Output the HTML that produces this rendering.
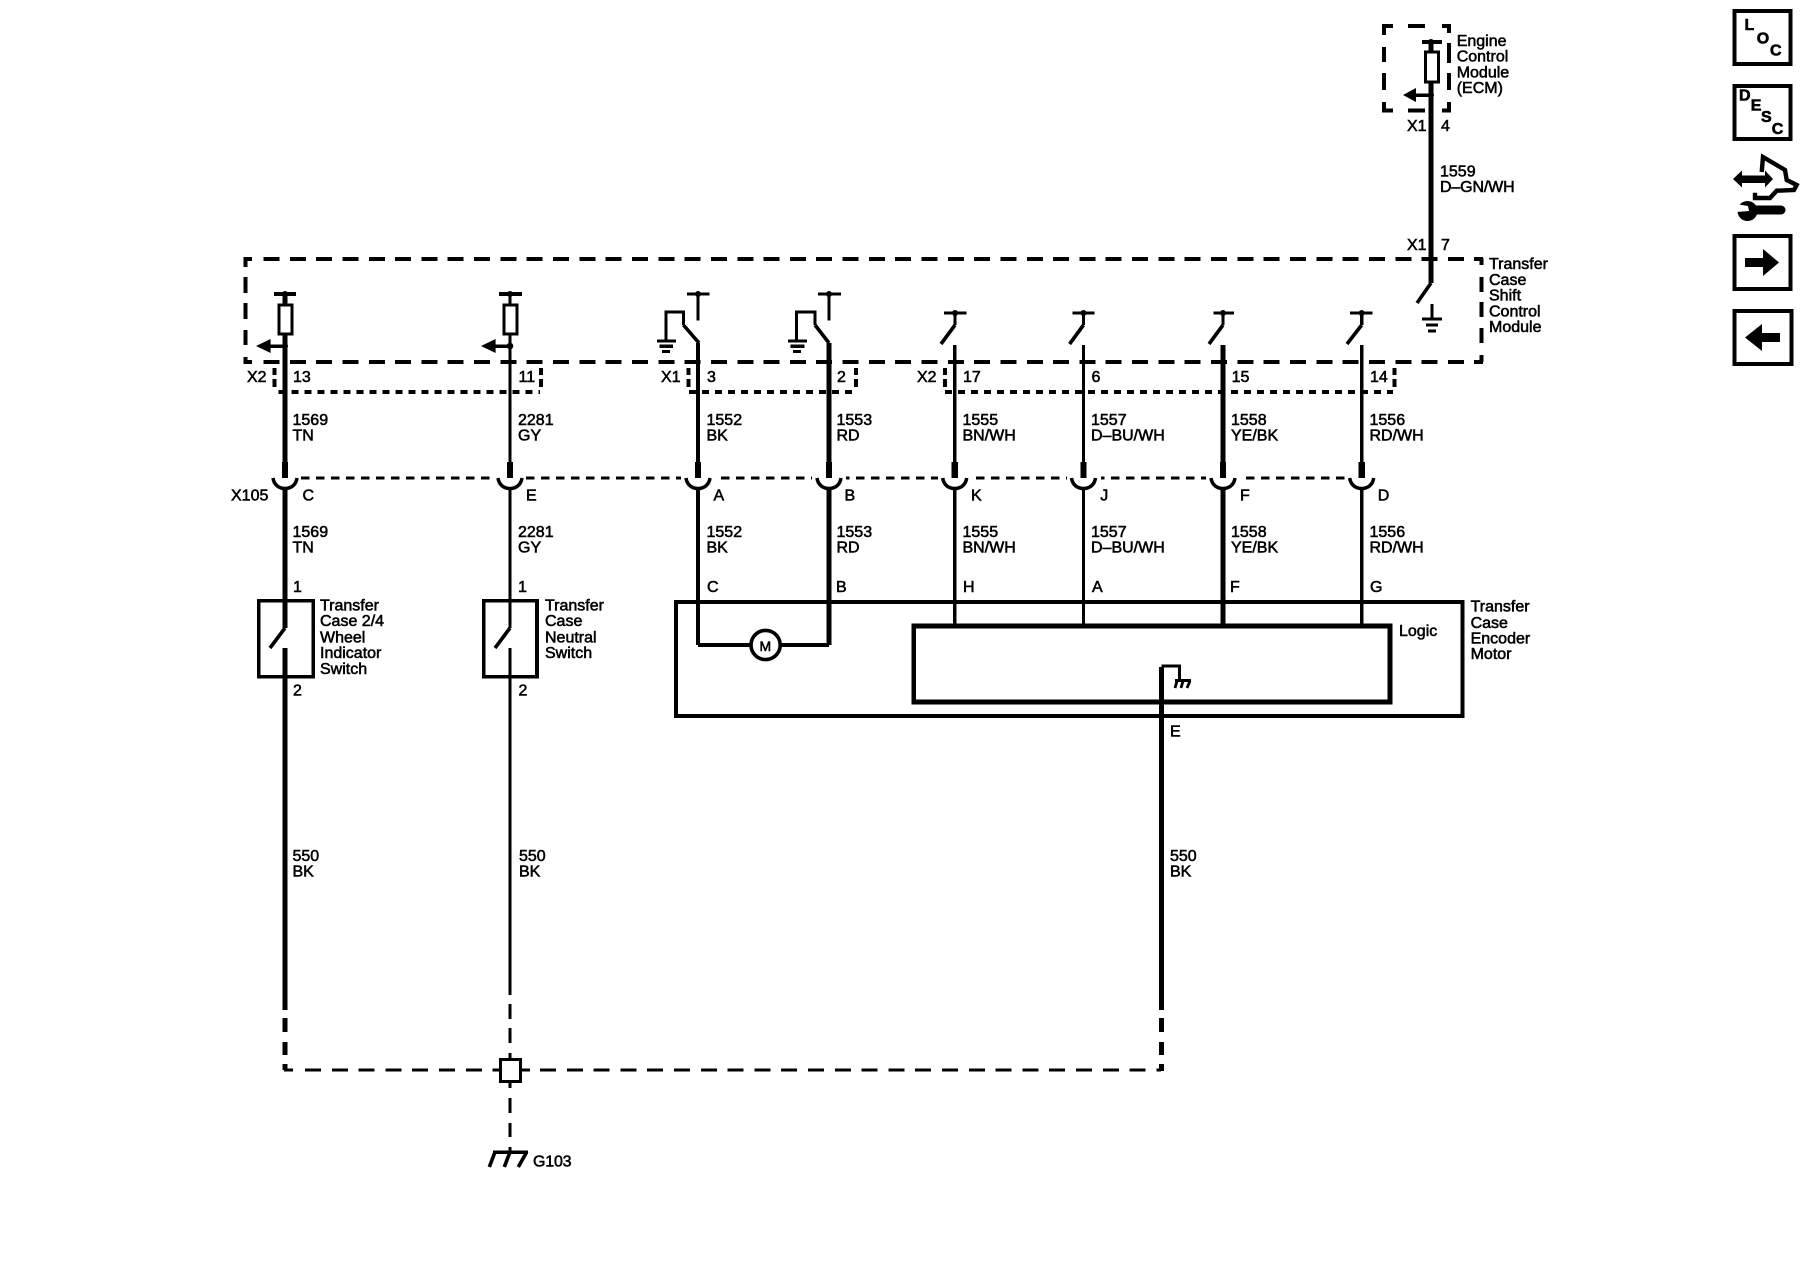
<!DOCTYPE html>
<html><head><meta charset="utf-8"><title>Transfer Case Wiring Diagram</title>
<style>
html,body{margin:0;padding:0;background:#fff}
svg{display:block}
text{font-family:"Liberation Sans",Arial,sans-serif;font-size:16px;letter-spacing:0;fill:#000;stroke:#000;stroke-width:.55px}
.b{font-weight:bold;stroke-width:.6px}
</style></head><body>
<svg width="1800" height="1280" viewBox="0 0 1800 1280" xmlns="http://www.w3.org/2000/svg">
<rect width="1800" height="1280" fill="#fff"/>
<g fill="none" stroke="#000" stroke-width="4" shape-rendering="crispEdges">
<!-- ECM dashed box -->
<path d="M1393 26H1384V35M1384 47V62M1384 73V90M1384 102V110.5H1393M1408 26H1425M1442 26H1449V33M1449 43V63M1449 73V90M1449 102V110.5H1442M1408 110.5H1425"/>
<!-- TCSCM dashed box -->
<line x1="263.5" y1="259" x2="1483" y2="259" stroke-dasharray="16 10.32"/>
<line x1="263.5" y1="362" x2="1483" y2="362" stroke-dasharray="16 10.32"/>
<path d="M252 259H245.7V267M245.7 277V293M245.7 303V319M245.7 330V345M245.7 357V362H252"/>
<path d="M1481.7 258V265M1481.7 277V292M1481.7 302V317M1481.7 328V343M1481.7 355V362"/>
<!-- dotted connector boxes -->
<g stroke-width="4">
<line x1="278.5" y1="392" x2="540" y2="392" stroke-dasharray="7 6"/>
<path d="M274.6 368V375M274.6 379V387M541 368V375M541 379V387"/>
<line x1="689" y1="392" x2="855" y2="392" stroke-dasharray="7 6"/>
<path d="M688.6 368V375M688.6 379V387M856 368V375M856 379V387"/>
<line x1="945" y1="392" x2="1393" y2="392" stroke-dasharray="7 6"/>
<path d="M945 368V375M945 379V387M1394.5 368V375M1394.5 379V387"/>
<!-- X105 -->
<line x1="301" y1="478" x2="1373" y2="478" stroke-width="3.4" stroke-dasharray="8.5 6.5"/>
</g>
<!-- clear X105 dashes around the cups -->
<g fill="#fff" stroke="none">
<rect x="495" y="474" width="30" height="8"/><rect x="681" y="474" width="34" height="8"/><rect x="812" y="474" width="34" height="8"/><rect x="938" y="474" width="34" height="8"/><rect x="1067" y="474" width="34" height="8"/><rect x="1206" y="474" width="34" height="8"/><rect x="1345" y="474" width="40" height="8"/>
</g>
<!-- wires -->
<path stroke-width="4.7" d="M1431 42V52M1431 82V283"/>
<path stroke-width="4.7" d="M285 294V305M285 334V462M285 488V628M285 648V1010M285 1018V1032M285 1042V1055M285 1064V1070"/>
<path stroke-width="3.2" d="M510 294V305M510 334V462M510 488V628M510 648V995M510 1004V1019M510 1028V1043M510 1053V1059M510 1082V1088M510 1098V1113M510 1123V1137M510 1147V1152"/>
<path stroke-width="4" d="M698 343V462M698 488V645"/>
<path stroke-width="4.7" d="M829 343V462M829 488V645"/>
<path stroke-width="3.8" d="M954.7 345V462M954.7 488V626"/>
<path stroke-width="3" d="M1083.5 345V462M1083.5 488V626"/>
<path stroke-width="4.7" d="M1223 345V462M1223 488V626"/>
<path stroke-width="3.6" d="M1361.7 345V462M1361.7 488V626"/>
<path stroke-width="5" d="M1161.3 1010V667M1161.3 1018V1032M1161.3 1042V1055M1161.3 1064V1071"/>
<!-- plugs -->
<g stroke-width="6.2"><path d="M285 462V478M510 462V478M698 462V478M829 462V478M954.7 462V478M1083.5 462V478M1223 462V478M1361.7 462V478"/></g>
<!-- fuses -->
<g stroke-width="3.2">
<rect x="1425.5" y="52" width="13" height="30" fill="#fff"/>
<rect x="279" y="305" width="13" height="29"/>
<rect x="504" y="305" width="13" height="29"/>
</g>
<path stroke-width="4" d="M1422 42H1442M274 294H296M499 294H522"/>
<!-- arrows -->
<path stroke-width="3.5" d="M1416 95H1431M270 346H285M495 346H510"/>
<!-- top switches (X1) -->
<g stroke-width="3.2">
<path d="M687 294H709.5M698 294V320.5M818 294H841M829 294V320.5"/>
<path d="M666 340V312H683.4V325M796.5 340V312H815V325"/>
<path d="M657 341H676M788 341H807"/>
<path d="M944 313H966.5M955 313V325M1072.5 313H1094.5M1083.5 313V325M1213.5 313H1234M1223 313V325M1350 313H1372.6M1361.7 313V325"/>
<path d="M1432 304V319M1422 319H1442M1426 325H1438M1428 331H1436"/>
</g>
<path stroke-width="3.5" d="M659.5 346H673M790.5 346H804.5"/>
<path stroke-width="3" d="M662 351.5H670M793 351.5H801"/>
<!-- switches boxes -->
<g stroke-width="3.6">
<rect x="258.7" y="600.7" width="54.6" height="76"/>
<rect x="483.7" y="600.7" width="53.3" height="76"/>
<rect x="676" y="602" width="786.5" height="114"/>
<rect x="913.7" y="626" width="476.3" height="76" stroke-width="4.6"/>
<path d="M698 645H750M781 645H829"/>
<path d="M1161.3 666H1179.5V680M1175 680.5H1191" stroke-width="3.4"/>
</g>
<!-- splice -->
<rect x="500.5" y="1059.5" width="20" height="22" stroke-width="3.2" fill="#fff"/>
<g stroke-width="3">
<line x1="305" y1="1070" x2="499" y2="1070" stroke-dasharray="16 10.8"/>
<path d="M284 1070H293M522 1070H530"/>
<line x1="540" y1="1070" x2="1161" y2="1070" stroke-dasharray="16 10.8"/>
<path d="M493 1152H528" stroke-width="3.5"/>
</g>
<!-- icon boxes -->
<g stroke-width="3.6">
<rect x="1734.5" y="11" width="56" height="53"/>
<rect x="1734.5" y="86" width="56" height="53"/>
<rect x="1734.5" y="236" width="56" height="53"/>
<rect x="1734.5" y="311" width="57" height="53"/>
</g>
</g>
<!-- diagonal strokes, rounded -->
<g fill="none" stroke="#000" stroke-width="3.6" stroke-linecap="butt">
<path d="M1431 283L1417 303"/>
<path d="M683.4 325L699 343M815 325L829 343"/>
<path d="M955 325L941 344M1083.5 325L1069.6 344M1223 325L1209 344M1361.7 325L1347 344"/>
<path d="M285 628L270 648M510 628L495 648"/>
<path d="M1177 681L1175 688M1183 681L1181 688M1190 681L1187 688" stroke-width="2.8"/>
<path d="M495 1152L489.3 1167M510 1152L504.3 1167M526.7 1152L518.3 1167"/>
<circle cx="765.6" cy="645" r="14.6" stroke-width="3.6" fill="#fff"/>
<path d="M1761.7 172L1763 157L1785 170L1786.7 180L1796.7 185L1794 190L1776.7 190.7L1770 198L1755 198L1755 192.7" stroke-width="4.4"/>
<path d="M1751 210H1781" stroke-width="9" stroke-linecap="round"/>
</g>
<g fill="#000">
<polygon points="1403,95 1416,88 1416,102"/>
<polygon points="256,346 270.6,339 270.6,353"/>
<polygon points="481,346 495.6,339 495.6,353"/>
<circle cx="1431" cy="95" r="3"/><circle cx="285" cy="346" r="3"/><circle cx="510" cy="346" r="3.3"/>
<!-- junction bumps on top bars -->
<circle cx="1431" cy="42" r="3"/><circle cx="285" cy="294" r="3"/><circle cx="510" cy="294" r="3"/><circle cx="698" cy="294" r="3"/><circle cx="829" cy="294" r="3"/><circle cx="955" cy="313" r="3"/><circle cx="1083.5" cy="313" r="3"/><circle cx="1223" cy="313" r="3"/><circle cx="1361.7" cy="313" r="3"/>
<polygon points="1763,249 1779,262.5 1763,276"/><rect x="1745" y="258" width="19" height="9"/>
<polygon points="1745,337.5 1762,324 1762,351"/><rect x="1761" y="333" width="19" height="9"/>
<polygon points="1733,179 1742,170.5 1742,175.5 1765,175.5 1765,170.5 1773,179 1765,187.5 1765,183 1742,183 1742,187.5"/>
<circle cx="1747.5" cy="211" r="10"/>
<polygon points="1736,204 1748,206 1749,211 1736,212" fill="#fff"/>
</g>
<g fill="none" stroke="#000" stroke-width="3.5">
<path d="M273 478C274 485 279 488.5 285 488.5C291 488.5 296 485 297 478"/>
<path d="M498 478C499 485 504 488.5 510 488.5C516 488.5 521 485 522 478"/>
<path d="M686 478C687 485 692 488.5 698 488.5C704 488.5 709 485 710 478"/>
<path d="M817 478C818 485 823 488.5 829 488.5C835 488.5 840 485 841 478"/>
<path d="M942.7 478C943.7 485 948.7 488.5 954.7 488.5C960.7 488.5 965.7 485 966.7 478"/>
<path d="M1071.5 478C1072.5 485 1077.5 488.5 1083.5 488.5C1089.5 488.5 1094.5 485 1095.5 478"/>
<path d="M1211 478C1212 485 1217 488.5 1223 488.5C1229 488.5 1234 485 1235 478"/>
<path d="M1349.7 478C1350.7 485 1355.7 488.5 1361.7 488.5C1367.7 488.5 1372.7 485 1373.7 478"/>
</g>
<!-- labels -->
<text x="1456.7" y="46">Engine</text><text x="1456.7" y="61.7">Control</text><text x="1456.7" y="77.3">Module</text><text x="1456.7" y="93">(ECM)</text>
<text x="1407" y="131">X1</text><text x="1441" y="131">4</text>
<text x="1440" y="176.7">1559</text><text x="1440" y="192" style="letter-spacing:-.15px">D–GN/WH</text>
<text x="1407" y="250">X1</text><text x="1441" y="250">7</text>
<text x="1489" y="269">Transfer</text><text x="1489" y="285">Case</text><text x="1489" y="300.7">Shift</text><text x="1489" y="316.7">Control</text><text x="1489" y="332">Module</text>
<text x="247" y="382">X2</text><text x="293" y="382">13</text><text x="518.5" y="382">11</text>
<text x="661" y="382">X1</text><text x="707" y="382">3</text><text x="837" y="382">2</text>
<text x="917" y="382">X2</text><text x="963" y="382">17</text><text x="1091.5" y="382">6</text><text x="1231.6" y="382">15</text><text x="1370" y="382">14</text>
<text x="292.5" y="425">1569</text><text x="292.5" y="440.7">TN</text>
<text x="518" y="425">2281</text><text x="518" y="440.7">GY</text>
<text x="706.5" y="425">1552</text><text x="706.5" y="440.7">BK</text>
<text x="836.5" y="425">1553</text><text x="836.5" y="440.7">RD</text>
<text x="962.5" y="425">1555</text><text x="962.5" y="440.7">BN/WH</text>
<text x="1091" y="425">1557</text><text x="1091" y="440.7">D–BU/WH</text>
<text x="1231" y="425">1558</text><text x="1231" y="440.7">YE/BK</text>
<text x="1369.5" y="425">1556</text><text x="1369.5" y="440.7">RD/WH</text>
<text x="231" y="500.7">X105</text>
<text x="302.5" y="500.7">C</text><text x="526" y="500.7">E</text><text x="713.5" y="500.7">A</text><text x="844.5" y="500.7">B</text><text x="971" y="500.7">K</text><text x="1100.3" y="500.7">J</text><text x="1240" y="500.7">F</text><text x="1377.7" y="500.7">D</text>
<text x="292.5" y="537">1569</text><text x="292.5" y="552.7">TN</text>
<text x="518" y="537">2281</text><text x="518" y="552.7">GY</text>
<text x="706.5" y="537">1552</text><text x="706.5" y="552.7">BK</text>
<text x="836.5" y="537">1553</text><text x="836.5" y="552.7">RD</text>
<text x="962.5" y="537">1555</text><text x="962.5" y="552.7">BN/WH</text>
<text x="1091" y="537">1557</text><text x="1091" y="552.7">D–BU/WH</text>
<text x="1231" y="537">1558</text><text x="1231" y="552.7">YE/BK</text>
<text x="1369.5" y="537">1556</text><text x="1369.5" y="552.7">RD/WH</text>
<text x="293" y="592">1</text><text x="518" y="592">1</text>
<text x="707" y="592">C</text><text x="836" y="592">B</text><text x="963" y="592">H</text><text x="1092" y="592">A</text><text x="1230" y="592">F</text><text x="1370" y="592">G</text>
<text x="320" y="610.7">Transfer</text><text x="320" y="626">Case 2/4</text><text x="320" y="642.7">Wheel</text><text x="320" y="658">Indicator</text><text x="320" y="674">Switch</text>
<text x="545" y="610.7">Transfer</text><text x="545" y="626">Case</text><text x="545" y="642.7">Neutral</text><text x="545" y="658">Switch</text>
<text x="293" y="695.7">2</text><text x="518.5" y="695.7">2</text>
<text x="759.5" y="651" style="font-size:14px">M</text>
<text x="1399" y="636">Logic</text>
<text x="1470.6" y="611.5">Transfer</text><text x="1470.6" y="628">Case</text><text x="1470.6" y="643.5">Encoder</text><text x="1470.6" y="659">Motor</text>
<text x="1170" y="736.7">E</text>
<text x="292.5" y="861">550</text><text x="292.5" y="876.7">BK</text>
<text x="519" y="861">550</text><text x="519" y="876.7">BK</text>
<text x="1170" y="861">550</text><text x="1170" y="876.7">BK</text>
<text x="533" y="1166.7" style="letter-spacing:-.2px">G103</text>
<text class="b" x="1744.5" y="30">L</text><text class="b" x="1756.7" y="43.3">O</text><text class="b" x="1770" y="55.7">C</text>
<text class="b" x="1739" y="100.7">D</text><text class="b" x="1750.7" y="110.7">E</text><text class="b" x="1761" y="122">S</text><text class="b" x="1771.7" y="134">C</text>
</svg>
</body></html>
